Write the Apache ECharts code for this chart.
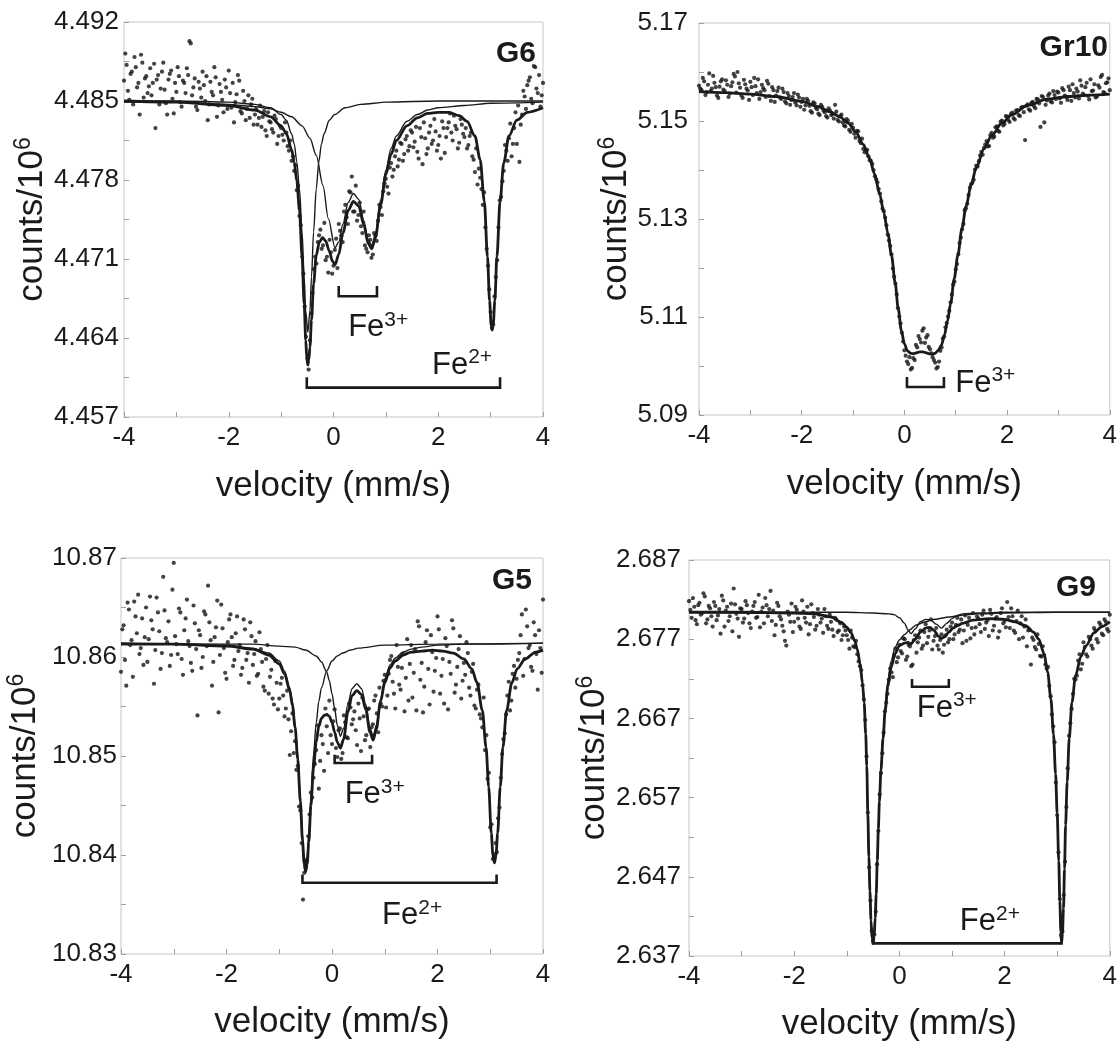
<!DOCTYPE html>
<html><head><meta charset="utf-8">
<script src="https://cdn.jsdelivr.net/npm/echarts@6/dist/echarts.min.js"></script>
<style>html,body{margin:0;padding:0;background:#fff}#c{width:1120px;height:1047px}</style>
</head><body><div id="c"></div>
<script>
// ---------------- data ----------------
// channel velocities (mm/s), two interleaved channel sets
const velocity = [
 -4,-3.95,-3.9,-3.85,-3.8,-3.75,-3.7,-3.65,-3.6,-3.55,
 -3.5,-3.45,-3.4,-3.35,-3.3,-3.25,-3.2,-3.15,-3.1,-3.05,
 -3,-2.95,-2.9,-2.85,-2.8,-2.75,-2.7,-2.65,-2.6,-2.55,
 -2.5,-2.45,-2.4,-2.35,-2.3,-2.25,-2.2,-2.15,-2.1,-2.05,
 -2,-1.95,-1.9,-1.85,-1.8,-1.75,-1.7,-1.65,-1.6,-1.55,
 -1.5,-1.45,-1.4,-1.35,-1.3,-1.25,-1.2,-1.15,-1.1,-1.05,
 -1,-0.95,-0.9,-0.85,-0.8,-0.75,-0.7,-0.65,-0.6,-0.55,
 -0.5,-0.45,-0.4,-0.35,-0.3,-0.25,-0.2,-0.15,-0.1,-0.05,
 0,0.05,0.1,0.15,0.2,0.25,0.3,0.35,0.4,0.45,
 0.5,0.55,0.6,0.65,0.7,0.75,0.8,0.85,0.9,0.95,
 1,1.05,1.1,1.15,1.2,1.25,1.3,1.35,1.4,1.45,
 1.5,1.55,1.6,1.65,1.7,1.75,1.8,1.85,1.9,1.95,
 2,2.05,2.1,2.15,2.2,2.25,2.3,2.35,2.4,2.45,
 2.5,2.55,2.6,2.65,2.7,2.75,2.8,2.85,2.9,2.95,
 3,3.05,3.1,3.15,3.2,3.25,3.3,3.35,3.4,3.45,
 3.5,3.55,3.6,3.65,3.7,3.75,3.8,3.85,3.9,3.95,
 4];
const velocity2 = [
 -3.975,-3.925,-3.875,-3.825,-3.775,-3.725,-3.675,-3.625,-3.575,-3.525,
 -3.475,-3.425,-3.375,-3.325,-3.275,-3.225,-3.175,-3.125,-3.075,-3.025,
 -2.975,-2.925,-2.875,-2.825,-2.775,-2.725,-2.675,-2.625,-2.575,-2.525,
 -2.475,-2.425,-2.375,-2.325,-2.275,-2.225,-2.175,-2.125,-2.075,-2.025,
 -1.975,-1.925,-1.875,-1.825,-1.775,-1.725,-1.675,-1.625,-1.575,-1.525,
 -1.475,-1.425,-1.375,-1.325,-1.275,-1.225,-1.175,-1.125,-1.075,-1.025,
 -0.975,-0.925,-0.875,-0.825,-0.775,-0.725,-0.675,-0.625,-0.575,-0.525,
 -0.475,-0.425,-0.375,-0.325,-0.275,-0.225,-0.175,-0.125,-0.075,-0.025,
 0.025,0.075,0.125,0.175,0.225,0.275,0.325,0.375,0.425,0.475,
 0.525,0.575,0.625,0.675,0.725,0.775,0.825,0.875,0.925,0.975,
 1.025,1.075,1.125,1.175,1.225,1.275,1.325,1.375,1.425,1.475,
 1.525,1.575,1.625,1.675,1.725,1.775,1.825,1.875,1.925,1.975,
 2.025,2.075,2.125,2.175,2.225,2.275,2.325,2.375,2.425,2.475,
 2.525,2.575,2.625,2.675,2.725,2.775,2.825,2.875,2.925,2.975,
 3.025,3.075,3.125,3.175,3.225,3.275,3.325,3.375,3.425,3.475,
 3.525,3.575,3.625,3.675,3.725,3.775,3.825,3.875,3.925,3.975];

const xTickLabels = [-4,-2,0,2,4];
const g6YTicks  = [4.457,4.464,4.471,4.478,4.485,4.492];
const gr10YTicks = [5.09,5.11,5.13,5.15,5.17];
const g5YTicks  = [10.83,10.84,10.85,10.86,10.87];
const g9YTicks  = [2.637,2.647,2.657,2.667,2.677,2.687];

const g6Counts = [
 4.4868,4.4882,4.4851,4.4876,4.4889,4.4862,4.4838,4.4884,4.4870,4.4857,
 4.4879,4.4866,4.4826,4.4873,4.4861,4.4884,4.4848,4.4869,4.4877,4.4839,
 4.4858,4.4872,4.4845,4.4866,4.4879,4.4903,4.4855,4.4870,4.4842,4.4861,
 4.4876,4.4850,4.4833,4.4867,4.4855,4.4871,4.4846,4.4858,4.4840,4.4862,
 4.4877,4.4844,4.4831,4.4856,4.4868,4.4839,4.4850,4.4843,4.4835,4.4852,
 4.4838,4.4829,4.4846,4.4836,4.4824,4.4840,4.4831,4.4822,4.4834,4.4819,
 4.4826,4.4815,4.4822,4.4806,4.4797,4.4788,4.4771,4.4748,4.4712,4.4668,
 4.4622,4.4638,4.4680,4.4712,4.4725,4.4736,4.4722,4.4709,4.4698,4.4716,
 4.4704,4.4728,4.4741,4.4731,4.4752,4.4747,4.4770,4.4783,4.4752,4.4744,
 4.4760,4.4733,4.4722,4.4716,4.4727,4.4714,4.4731,4.4744,4.4756,4.4770,
 4.4781,4.4768,4.4795,4.4789,4.4806,4.4798,4.4812,4.4803,4.4819,4.4810,
 4.4822,4.4814,4.4805,4.4826,4.4794,4.4817,4.4808,4.4828,4.4815,4.4823,
 4.4811,4.4799,4.4826,4.4818,4.4831,4.4822,4.4837,4.4825,4.4813,4.4829,
 4.4818,4.4808,4.4819,4.4801,4.4787,4.4776,4.4782,4.4758,4.4738,4.4704,
 4.4663,4.4652,4.4694,4.4738,4.4765,4.4788,4.4806,4.4817,4.4801,4.4826,
 4.4812,4.4796,4.4838,4.4854,4.4864,4.4871,4.4848,4.4880,4.4857,4.4845,
 4.4866];
const g6Counts2 = [
 4.4892,4.4859,4.4874,4.4847,4.4880,4.4866,4.4891,4.4853,4.4872,4.4863,
 4.4855,4.4883,4.4869,4.4847,4.4876,4.4860,4.4838,4.4874,4.4852,4.4866,
 4.4880,4.4849,4.4868,4.4857,4.4873,4.4901,4.4862,4.4845,4.4867,4.4853,
 4.4864,4.4872,4.4847,4.4858,4.4880,4.4836,4.4865,4.4851,4.4869,4.4843,
 4.4857,4.4866,4.4849,4.4873,4.4841,4.4859,4.4833,4.4855,4.4847,4.4829,
 4.4843,4.4835,4.4827,4.4841,4.4819,4.4832,4.4825,4.4837,4.4812,4.4828,
 4.4820,4.4831,4.4810,4.4815,4.4801,4.4793,4.4775,4.4740,4.4697,4.4641,
 4.4612,4.4662,4.4701,4.4706,4.4731,4.4719,4.4742,4.4712,4.4727,4.4697,
 4.4718,4.4702,4.4735,4.4725,4.4758,4.4741,4.4769,4.4752,4.4775,4.4749,
 4.4739,4.4752,4.4719,4.4731,4.4711,4.4733,4.4726,4.4758,4.4749,4.4777,
 4.4774,4.4791,4.4783,4.4801,4.4792,4.4813,4.4797,4.4816,4.4806,4.4824,
 4.4809,4.4827,4.4799,4.4818,4.4831,4.4803,4.4822,4.4812,4.4834,4.4806,
 4.4819,4.4832,4.4804,4.4826,4.4839,4.4815,4.4828,4.4808,4.4834,4.4821,
 4.4826,4.4811,4.4822,4.4798,4.4808,4.4790,4.4772,4.4769,4.4719,4.4683,
 4.4649,4.4677,4.4709,4.4762,4.4779,4.4811,4.4797,4.4830,4.4812,4.4840,
 4.4846,4.4829,4.4859,4.4843,4.4868,4.4852,4.4881,4.4861,4.4873,4.4855];

const gr10Counts = [
 5.1572,5.1563,5.1581,5.1559,5.1597,5.1566,5.1578,5.1552,5.1570,5.1585,
 5.1561,5.1574,5.1556,5.1579,5.1591,5.1600,5.1568,5.1547,5.1575,5.1562,
 5.1580,5.1553,5.1571,5.1585,5.1559,5.1567,5.1549,5.1576,5.1541,5.1563,
 5.1552,5.1568,5.1545,5.1559,5.1536,5.1551,5.1543,5.1557,5.1532,5.1548,
 5.1539,5.1523,5.1545,5.1531,5.1517,5.1536,5.1524,5.1512,5.1529,5.1518,
 5.1507,5.1521,5.1514,5.1533,5.1502,5.1510,5.1497,5.1489,5.1501,5.1478,
 5.1486,5.1466,5.1479,5.1455,5.1443,5.1440,5.1428,5.1418,5.1400,5.1381,
 5.1361,5.1336,5.1316,5.1287,5.1256,5.1228,5.1182,5.1146,5.1101,5.1068,
 5.1032,5.1009,5.1018,5.0996,5.1012,5.1038,5.1055,5.1072,5.1047,5.1063,
 5.1034,5.1018,5.1007,5.0998,5.1031,5.1056,5.1079,5.1101,5.1130,5.1166,
 5.1197,5.1228,5.1262,5.1290,5.1322,5.1349,5.1371,5.1380,5.1409,5.1418,
 5.1437,5.1445,5.1459,5.1449,5.1476,5.1468,5.1489,5.1478,5.1501,5.1494,
 5.1509,5.1498,5.1517,5.1503,5.1522,5.1510,5.1529,5.1461,5.1534,5.1521,
 5.1539,5.1526,5.1544,5.1488,5.1549,5.1533,5.1552,5.1540,5.1561,5.1545,
 5.1558,5.1537,5.1563,5.1549,5.1570,5.1541,5.1557,5.1566,5.1546,5.1572,
 5.1553,5.1578,5.1544,5.1561,5.1575,5.1550,5.1568,5.1594,5.1557,5.1579,
 5.1563];
const gr10Counts2 = [
 5.1566,5.1588,5.1553,5.1574,5.1561,5.1592,5.1569,5.1547,5.1581,5.1564,
 5.1583,5.1549,5.1571,5.1596,5.1558,5.1577,5.1552,5.1584,5.1566,5.1543,
 5.1569,5.1588,5.1557,5.1545,5.1574,5.1563,5.1582,5.1551,5.1569,5.1539,
 5.1561,5.1548,5.1566,5.1540,5.1557,5.1533,5.1549,5.1538,5.1554,5.1529,
 5.1545,5.1532,5.1541,5.1520,5.1538,5.1527,5.1515,5.1533,5.1521,5.1510,
 5.1526,5.1512,5.1505,5.1519,5.1499,5.1513,5.1491,5.1504,5.1482,5.1494,
 5.1474,5.1480,5.1459,5.1464,5.1436,5.1441,5.1420,5.1412,5.1387,5.1375,
 5.1352,5.1321,5.1303,5.1268,5.1245,5.1199,5.1168,5.1118,5.1087,5.1050,
 5.1021,5.1004,5.0993,5.1016,5.1043,5.1061,5.1048,5.1077,5.1058,5.1039,
 5.1026,5.1012,5.0995,5.1009,5.1038,5.1060,5.1088,5.1113,5.1146,5.1172,
 5.1208,5.1251,5.1279,5.1318,5.1331,5.1364,5.1374,5.1401,5.1407,5.1430,
 5.1431,5.1452,5.1448,5.1471,5.1466,5.1487,5.1480,5.1499,5.1491,5.1510,
 5.1502,5.1514,5.1506,5.1521,5.1512,5.1527,5.1518,5.1531,5.1524,5.1537,
 5.1530,5.1545,5.1536,5.1551,5.1497,5.1542,5.1556,5.1538,5.1553,5.1560,
 5.1546,5.1567,5.1552,5.1543,5.1563,5.1575,5.1548,5.1560,5.1583,5.1556,
 5.1569,5.1551,5.1585,5.1562,5.1548,5.1573,5.1590,5.1559,5.1577,5.1587];

const g5Counts = [
 10.8585,10.8632,10.8571,10.8648,10.8617,10.8656,10.8624,10.8603,10.8639,10.8620,
 10.8595,10.8661,10.8628,10.8607,10.8645,10.8588,10.8681,10.8619,10.8636,10.8602,
 10.8695,10.8613,10.8649,10.8598,10.8627,10.8658,10.8611,10.8586,10.8634,10.8541,
 10.8622,10.8600,10.8643,10.8672,10.8617,10.8595,10.8630,10.8544,10.8653,10.8609,
 10.8578,10.8638,10.8620,10.8597,10.8641,10.8612,10.8589,10.8628,10.8604,10.8635,
 10.8592,10.8616,10.8583,10.8608,10.8570,10.8598,10.8563,10.8587,10.8552,10.8574,
 10.8558,10.8579,10.8540,10.8566,10.8501,10.8543,10.8515,10.8490,10.8445,10.8355,
 10.8388,10.8419,10.8463,10.8478,10.8506,10.8467,10.8521,10.8485,10.8530,10.8556,
 10.8512,10.8547,10.8499,10.8528,10.8503,10.8534,10.8518,10.8549,10.8537,10.8526,
 10.8553,10.8505,10.8540,10.8521,10.8548,10.8529,10.8556,10.8543,10.8569,10.8550,
 10.8582,10.8561,10.8597,10.8575,10.8548,10.8590,10.8567,10.8603,10.8579,10.8556,
 10.8612,10.8584,10.8546,10.8631,10.8594,10.8570,10.8627,10.8552,10.8605,10.8586,
 10.8641,10.8563,10.8598,10.8619,10.8547,10.8583,10.8629,10.8572,10.8608,10.8558,
 10.8594,10.8615,10.8569,10.8585,10.8551,10.8567,10.8542,10.8529,10.8506,10.8477,
 10.8428,10.8396,10.8412,10.8437,10.8478,10.8517,10.8542,10.8575,10.8556,10.8591,
 10.8578,10.8604,10.8643,10.8598,10.8631,10.8612,10.8586,10.8622,10.8567,10.8609,
 10.8658];
const g5Counts2 = [
 10.8628,10.8597,10.8655,10.8612,10.8580,10.8641,10.8663,10.8609,10.8592,10.8650,
 10.8618,10.8637,10.8573,10.8660,10.8626,10.8604,10.8647,10.8615,10.8591,10.8668,
 10.8621,10.8603,10.8645,10.8582,10.8639,10.8616,10.8594,10.8652,10.8608,10.8627,
 10.8589,10.8646,10.8611,10.8635,10.8571,10.8620,10.8657,10.8602,10.8629,10.8584,
 10.8615,10.8643,10.8591,10.8624,10.8606,10.8582,10.8638,10.8597,10.8574,10.8621,
 10.8603,10.8581,10.8625,10.8595,10.8566,10.8612,10.8580,10.8558,10.8596,10.8547,
 10.8573,10.8561,10.8548,10.8537,10.8525,10.8503,10.8486,10.8449,10.8412,10.8382,
 10.8395,10.8441,10.8458,10.8492,10.8531,10.8495,10.8512,10.8548,10.8503,10.8521,
 10.8535,10.8508,10.8526,10.8497,10.8541,10.8519,10.8553,10.8532,10.8545,10.8511,
 10.8538,10.8559,10.8516,10.8547,10.8509,10.8532,10.8561,10.8524,10.8553,10.8576,
 10.8549,10.8583,10.8601,10.8563,10.8612,10.8572,10.8589,10.8545,10.8618,10.8593,
 10.8559,10.8608,10.8636,10.8577,10.8544,10.8615,10.8588,10.8622,10.8565,10.8599,
 10.8628,10.8581,10.8553,10.8611,10.8595,10.8637,10.8564,10.8590,10.8621,10.8576,
 10.8582,10.8604,10.8561,10.8593,10.8548,10.8572,10.8538,10.8559,10.8521,10.8483,
 10.8431,10.8401,10.8403,10.8448,10.8502,10.8523,10.8561,10.8546,10.8583,10.8569,
 10.8597,10.8622,10.8581,10.8648,10.8609,10.8590,10.8635,10.8603,10.8627,10.8584];

const g9Counts = [
 2.6818,2.6797,2.6811,2.6789,2.6816,2.6803,2.6824,2.6795,2.6809,2.6786,
 2.6812,2.6800,2.6777,2.6819,2.6806,2.6793,2.6815,2.6834,2.6802,2.6773,
 2.6808,2.6796,2.6813,2.6790,2.6805,2.6817,2.6798,2.6785,2.6810,2.6822,
 2.6799,2.6831,2.6806,2.6788,2.6812,2.6795,2.6780,2.6762,2.6801,2.6815,
 2.6792,2.6807,2.6786,2.6819,2.6797,2.6811,2.6789,2.6803,2.6782,2.6808,
 2.6791,2.6778,2.6799,2.6783,2.6792,2.6774,2.6795,2.6781,2.6769,2.6786,
 2.6775,2.6758,2.6772,2.6760,2.6751,2.6736,2.6712,2.6668,2.6551,2.6440,
 2.6389,2.6426,2.6528,2.6601,2.6652,2.6690,2.6719,2.6728,2.6749,2.6741,
 2.6763,2.6752,2.6770,2.6748,2.6761,2.6738,2.6775,2.6766,2.6781,2.6762,
 2.6789,2.6773,2.6795,2.6768,2.6784,2.6757,2.6776,2.6763,2.6782,2.6770,
 2.6791,2.6776,2.6797,2.6782,2.6765,2.6800,2.6788,2.6771,2.6803,2.6785,
 2.6796,2.6779,2.6806,2.6791,2.6774,2.6802,2.6787,2.6798,2.6780,2.6809,
 2.6793,2.6817,2.6784,2.6799,2.6778,2.6806,2.6790,2.6772,2.6795,2.6781,
 2.6738,2.6769,2.6757,2.6764,2.6748,2.6750,2.6733,2.6711,2.6675,2.6640,
 2.6548,2.6442,2.6401,2.6489,2.6607,2.6664,2.6701,2.6719,2.6743,2.6732,
 2.6766,2.6751,2.6773,2.6762,2.6784,2.6770,2.6791,2.6777,2.6795,2.6783,
 2.6801];
const g9Counts2 = [
 2.6807,2.6822,2.6794,2.6813,2.6801,2.6828,2.6790,2.6812,2.6799,2.6817,
 2.6794,2.6808,2.6825,2.6786,2.6811,2.6799,2.6780,2.6814,2.6796,2.6809,
 2.6791,2.6818,2.6803,2.6784,2.6812,2.6797,2.6826,2.6805,2.6790,2.6813,
 2.6808,2.6793,2.6775,2.6816,2.6799,2.6787,2.6768,2.6805,2.6792,2.6779,
 2.6811,2.6796,2.6783,2.6805,2.6791,2.6776,2.6814,2.6798,2.6787,2.6801,
 2.6796,2.6808,2.6787,2.6801,2.6782,2.6797,2.6779,2.6790,2.6775,2.6781,
 2.6769,2.6781,2.6761,2.6768,2.6742,2.6731,2.6694,2.6622,2.6482,2.6402,
 2.6397,2.6486,2.6574,2.6626,2.6679,2.6701,2.6733,2.6722,2.6758,2.6747,
 2.6755,2.6771,2.6744,2.6763,2.6736,2.6769,2.6753,2.6772,2.6758,2.6779,
 2.6765,2.6781,2.6757,2.6774,2.6762,2.6769,2.6753,2.6775,2.6766,2.6786,
 2.6770,2.6788,2.6779,2.6795,2.6781,2.6768,2.6797,2.6784,2.6776,2.6799,
 2.6789,2.6801,2.6783,2.6794,2.6807,2.6781,2.6796,2.6772,2.6803,2.6790,
 2.6785,2.6798,2.6809,2.6781,2.6793,2.6770,2.6799,2.6786,2.6761,2.6782,
 2.6772,2.6760,2.6776,2.6749,2.6761,2.6738,2.6735,2.6698,2.6660,2.6589,
 2.6501,2.6396,2.6447,2.6558,2.6648,2.6682,2.6720,2.6724,2.6751,2.6739,
 2.6760,2.6748,2.6770,2.6758,2.6781,2.6766,2.6788,2.6775,2.6792,2.6780];

// fitted curves [velocity, counts]
const g6Total = [[-4,4.4850],[-3,4.4849],[-2,4.4846],[-1.5,4.4842],[-1.2,4.4836],[-1,4.4828],[-0.9,4.4821],[-0.8,4.4807],[-0.75,4.4796],[-0.7,4.4779],[-0.65,4.4753],[-0.6,4.4712],[-0.56,4.4670],[-0.53,4.4638],[-0.51,4.4622],[-0.49,4.4616],[-0.47,4.4621],[-0.45,4.4632],[-0.42,4.4656],[-0.38,4.4688],[-0.33,4.4713],[-0.27,4.4725],[-0.21,4.4729],[-0.15,4.4726],[-0.08,4.4717],[-0.02,4.4708],[0.03,4.4705],[0.1,4.4714],[0.18,4.4733],[0.28,4.4753],[0.38,4.4761],[0.48,4.4757],[0.58,4.4740],[0.66,4.4724],[0.73,4.4719],[0.8,4.4729],[0.9,4.4758],[1,4.4785],[1.1,4.4803],[1.2,4.4815],[1.4,4.4828],[1.6,4.4835],[1.8,4.4839],[2,4.4840],[2.2,4.4840],[2.4,4.4837],[2.55,4.4832],[2.7,4.4819],[2.8,4.4798],[2.88,4.4761],[2.94,4.4712],[2.98,4.4673],[3.01,4.4651],[3.03,4.4647],[3.05,4.4652],[3.08,4.4673],[3.12,4.4712],[3.18,4.4761],[3.25,4.4795],[3.35,4.4819],[3.5,4.4833],[3.7,4.4840],[4,4.4844]];
const g6Fe3Fit = [[-4,4.4849],[-3,4.4849],[-2,4.4847],[-1.5,4.4845],[-1.2,4.4843],[-1,4.4840],[-0.8,4.4836],[-0.6,4.4828],[-0.45,4.4817],[-0.33,4.4802],[-0.2,4.4775],[-0.1,4.4746],[0.03,4.4720],[0.1,4.4725],[0.18,4.4741],[0.28,4.4760],[0.38,4.4768],[0.48,4.4763],[0.58,4.4744],[0.66,4.4727],[0.73,4.4722],[0.8,4.4732],[0.9,4.4762],[1,4.4789],[1.1,4.4808],[1.2,4.4819],[1.4,4.4832],[1.6,4.4838],[1.8,4.4842],[2,4.4844],[2.5,4.4846],[3,4.4848],[4,4.4849]];
const g6LineFit = [[-4,4.4850],[-3,4.4850],[-2,4.4849],[-1.5,4.4847],[-1.2,4.4844],[-1,4.4838],[-0.9,4.4833],[-0.8,4.4821],[-0.75,4.4812],[-0.7,4.4796],[-0.65,4.4772],[-0.6,4.4734],[-0.56,4.4694],[-0.53,4.4664],[-0.49,4.4645],[-0.45,4.4664],[-0.42,4.4694],[-0.38,4.4734],[-0.33,4.4772],[-0.28,4.4796],[-0.23,4.4812],[-0.18,4.4821],[-0.08,4.4833],[0.02,4.4838],[0.22,4.4844],[0.52,4.4847],[1.02,4.4849],[2,4.4850],[4,4.4850]];

const gr10Total = [[-4,5.1560],[-3.5,5.1558],[-3,5.1555],[-2.5,5.1550],[-2,5.1540],[-1.7,5.1530],[-1.45,5.1519],[-1.25,5.1508],[-1.1,5.1496],[-0.95,5.1478],[-0.8,5.1452],[-0.68,5.1424],[-0.58,5.1392],[-0.48,5.1350],[-0.4,5.1313],[-0.32,5.1270],[-0.25,5.1225],[-0.18,5.1170],[-0.12,5.1117],[-0.06,5.1073],[0,5.1045],[0.06,5.1031],[0.12,5.1026],[0.18,5.1025],[0.24,5.1027],[0.3,5.1029],[0.36,5.1029],[0.42,5.1027],[0.48,5.1025],[0.54,5.1024],[0.6,5.1026],[0.66,5.1032],[0.72,5.1042],[0.78,5.1063],[0.84,5.1092],[0.9,5.1127],[0.97,5.1178],[1.04,5.1225],[1.12,5.1280],[1.2,5.1325],[1.3,5.1370],[1.4,5.1405],[1.55,5.1443],[1.7,5.1470],[1.9,5.1496],[2.1,5.1513],[2.4,5.1532],[2.8,5.1545],[3.2,5.1550],[3.6,5.1553],[4,5.1555]];

const g5Total = [[-4,10.8613],[-3,10.8613],[-2,10.8611],[-1.5,10.8608],[-1.2,10.8602],[-1,10.8593],[-0.9,10.8583],[-0.8,10.8566],[-0.75,10.8551],[-0.7,10.8529],[-0.65,10.8497],[-0.6,10.8454],[-0.56,10.8415],[-0.53,10.8392],[-0.5,10.8383],[-0.47,10.8391],[-0.44,10.8413],[-0.4,10.8450],[-0.35,10.8488],[-0.3,10.8514],[-0.25,10.8530],[-0.2,10.8538],[-0.15,10.8541],[-0.1,10.8542],[-0.05,10.8540],[0,10.8534],[0.05,10.8524],[0.1,10.8514],[0.16,10.8508],[0.22,10.8517],[0.3,10.8544],[0.38,10.8561],[0.47,10.8566],[0.56,10.8562],[0.64,10.8547],[0.72,10.8524],[0.78,10.8516],[0.84,10.8527],[0.92,10.8555],[1,10.8574],[1.1,10.8589],[1.2,10.8596],[1.35,10.8602],[1.5,10.8605],[1.7,10.8606],[1.9,10.8607],[2.1,10.8606],[2.3,10.8604],[2.5,10.8598],[2.65,10.8588],[2.75,10.8574],[2.85,10.8546],[2.92,10.8509],[2.97,10.8469],[3.02,10.8422],[3.05,10.8400],[3.08,10.8392],[3.11,10.8400],[3.14,10.8422],[3.19,10.8469],[3.24,10.8509],[3.31,10.8546],[3.41,10.8574],[3.51,10.8588],[3.66,10.8598],[3.86,10.8605],[4,10.8607]];
const g5Fe3Fit = [[-4,10.8614],[-2,10.8613],[-1.5,10.8613],[-1,10.8611],[-0.7,10.8610],[-0.5,10.8607],[-0.3,10.8601],[-0.2,10.8595],[-0.1,10.8585],[-0.05,10.8576],[0,10.8563],[0.05,10.8548],[0.1,10.8531],[0.16,10.8520],[0.22,10.8528],[0.3,10.8552],[0.38,10.8568],[0.47,10.8573],[0.56,10.8568],[0.64,10.8552],[0.72,10.8528],[0.78,10.8520],[0.84,10.8531],[0.92,10.8557],[1,10.8578],[1.1,10.8592],[1.2,10.8599],[1.35,10.8605],[1.5,10.8608],[1.7,10.8610],[2,10.8612],[2.5,10.8613],[3,10.8613],[4,10.8614]];
const g5LineFit = [[-4,10.8614],[-2,10.8612],[-1.5,10.8609],[-1.2,10.8604],[-1,10.8596],[-0.9,10.8586],[-0.8,10.8569],[-0.75,10.8555],[-0.7,10.8533],[-0.65,10.8502],[-0.6,10.8459],[-0.56,10.8421],[-0.53,10.8399],[-0.5,10.8390],[-0.47,10.8399],[-0.44,10.8421],[-0.4,10.8459],[-0.35,10.8502],[-0.3,10.8533],[-0.25,10.8555],[-0.2,10.8569],[-0.1,10.8586],[0,10.8596],[0.1,10.8601],[0.2,10.8604],[0.35,10.8607],[0.5,10.8609],[1,10.8612],[2,10.8613],[4,10.8614]];

const g9Total = [[-4,2.6804],[-3,2.6804],[-2,2.6803],[-1.6,2.6802],[-1.3,2.6798],[-1.1,2.6791],[-1,2.6785],[-0.92,2.6778],[-0.85,2.6768],[-0.8,2.6757],[-0.75,2.6740],[-0.7,2.6714],[-0.67,2.6690],[-0.64,2.6650],[-0.62,2.6610],[-0.6,2.6550],[-0.58,2.6495],[-0.56,2.6452],[-0.54,2.6415],[-0.52,2.6392],[-0.5,2.6386],[-0.48,2.6395],[-0.46,2.6418],[-0.44,2.6448],[-0.42,2.6490],[-0.4,2.6530],[-0.38,2.6565],[-0.35,2.6605],[-0.31,2.6645],[-0.27,2.6680],[-0.22,2.6710],[-0.16,2.6734],[-0.08,2.6752],[0,2.6762],[0.1,2.6765],[0.16,2.6766],[0.22,2.6764],[0.3,2.6770],[0.4,2.6779],[0.5,2.6784],[0.58,2.6785],[0.66,2.6781],[0.74,2.6774],[0.8,2.6771],[0.86,2.6773],[0.94,2.6779],[1.02,2.6784],[1.1,2.6787],[1.2,2.6790],[1.4,2.6794],[1.7,2.6796],[2,2.6795],[2.2,2.6792],[2.4,2.6787],[2.55,2.6779],[2.65,2.6770],[2.75,2.6752],[2.82,2.6728],[2.88,2.6695],[2.93,2.6650],[2.97,2.6600],[3,2.6550],[3.03,2.6490],[3.05,2.6440],[3.07,2.6400],[3.083,2.6386],[3.1,2.6398],[3.12,2.6430],[3.14,2.6480],[3.16,2.6535],[3.19,2.6590],[3.23,2.6645],[3.28,2.6690],[3.35,2.6724],[3.45,2.6748],[3.55,2.6762],[3.7,2.6778],[3.85,2.6786],[4,2.6792]];
const g9Fe3Fit = [[-4,2.6804],[-1,2.6804],[-0.5,2.6803],[-0.2,2.6802],[-0.1,2.6801],[0,2.6797],[0.1,2.6790],[0.16,2.6782],[0.22,2.6777],[0.3,2.6783],[0.4,2.6792],[0.5,2.6795],[0.6,2.6794],[0.7,2.6789],[0.8,2.6784],[0.9,2.6790],[1,2.6796],[1.1,2.6800],[1.2,2.6802],[1.5,2.6803],[2,2.6804],[4,2.6804]];
const g9LineFit = [[-4,2.6804],[-2,2.6803],[-1.6,2.6802],[-1.3,2.6798],[-1.1,2.6792],[-1,2.6786],[-0.92,2.6779],[-0.85,2.6769],[-0.8,2.6758],[-0.75,2.6741],[-0.7,2.6715],[-0.67,2.6691],[-0.64,2.6651],[-0.62,2.6611],[-0.6,2.6551],[-0.58,2.6496],[-0.56,2.6453],[-0.54,2.6416],[-0.52,2.6393],[-0.5,2.6388],[-0.48,2.6397],[-0.46,2.6420],[-0.44,2.6450],[-0.42,2.6492],[-0.4,2.6533],[-0.38,2.6568],[-0.35,2.6609],[-0.31,2.6650],[-0.27,2.6686],[-0.22,2.6717],[-0.16,2.6742],[-0.08,2.6760],[0,2.6769],[0.1,2.6776],[0.2,2.6782],[0.32,2.6788],[0.5,2.6792],[0.64,2.6795],[0.96,2.6798],[1.15,2.6800],[1.5,2.6802],[2,2.6803],[3,2.6804],[4,2.6804]];

// ---------------- layout / style ----------------
const FONT = '"Liberation Sans", Arial, Helvetica, sans-serif';
const INK = '#1a1a1a';

const panels = [
  { title:'G6', grid:{left:124, top:22, width:419, height:395}, yTicks:g6YTicks, dec:3,
    counts:[g6Counts, g6Counts2], total:g6Total, thin:[g6Fe3Fit, g6LineFit],
    yLabelMargin:5, yNameGap:70, xNameGap:52, titlePos:{right:584, top:39},
    brackets:[{x1:0.10, x2:0.83, bar:4.4677, tip:4.4685}, {x1:-0.51, x2:3.18, bar:4.4596, tip:4.4604}],
    texts:[{sup:'3+', x:0.28, y:4.4649}, {sup:'2+', x:1.88, y:4.4616}] },
  { title:'Gr10', grid:{left:699, top:23, width:413, height:392}, yTicks:gr10YTicks, dec:2,
    counts:[gr10Counts, gr10Counts2], total:gr10Total, thin:[],
    yLabelMargin:11, yNameGap:63, xNameGap:52, titlePos:{right:12, top:33},
    brackets:[{x1:0.05, x2:0.77, bar:5.0957, tip:5.0975}],
    texts:[{sup:'3+', x:0.99, y:5.0965}] },
  { title:'G5', grid:{left:121, top:558, width:422, height:396}, yTicks:g5YTicks, dec:2,
    counts:[g5Counts, g5Counts2], total:g5Total, thin:[g5Fe3Fit, g5LineFit],
    yLabelMargin:4, yNameGap:76, xNameGap:51, titlePos:{right:588, top:566},
    brackets:[{x1:0.05, x2:0.76, bar:10.8493, tip:10.8500}, {x1:-0.56, x2:3.12, bar:10.8372, tip:10.8379}],
    texts:[{sup:'3+', x:0.24, y:10.8461}, {sup:'2+', x:0.95, y:10.8339}] },
  { title:'G9', grid:{left:689, top:560, width:421, height:396}, yTicks:g9YTicks, dec:3,
    counts:[g9Counts, g9Counts2], total:g9Total, thin:[g9Fe3Fit, g9LineFit],
    yLabelMargin:8, yNameGap:73, xNameGap:51, titlePos:{right:24, top:573},
    brackets:[{x1:0.24, x2:0.94, bar:2.6710, tip:2.6718}, {x1:-0.50, x2:3.08, bar:2.6386, tip:2.6386}],
    texts:[{sup:'3+', x:0.33, y:2.6683}, {sup:'2+', x:1.15, y:2.6413}] }
];

function pairs(xs, ys){ return xs.map((x,i)=>[x, ys[i]]); }
function withMids(t){ const o=[]; for(let i=0;i<t.length;i++){ o.push(t[i]); if(i<t.length-1) o.push((t[i]+t[i+1])/2); } return o; }

const grids=[], xAxes=[], yAxes=[], series=[], titles=[];
const supRich = {
  m:{fontSize:31, fontFamily:FONT, color:INK, lineHeight:36},
  s:{fontSize:21, fontFamily:FONT, color:INK, lineHeight:20, verticalAlign:'top'}
};
const nameRich = {
  m:{fontSize:35, fontFamily:FONT, color:INK, lineHeight:40},
  s:{fontSize:23, fontFamily:FONT, color:INK, lineHeight:22, verticalAlign:'top'}
};

panels.forEach((p,i)=>{
  grids.push(Object.assign({show:true, borderColor:'#c6c6c6', borderWidth:1, backgroundColor:'transparent', containLabel:false}, p.grid));
  xAxes.push({
    type:'value', gridIndex:i, min:-4, max:4,
    axisLine:{show:false, onZero:false}, splitLine:{show:false},
    axisTick:{show:true, inside:true, length:5, customValues:withMids(xTickLabels), lineStyle:{color:'#a0a0a0', width:1}},
    axisLabel:{customValues:xTickLabels, fontSize:26, fontFamily:FONT, color:INK, margin:8, formatter:v=>String(v)},
    name:'velocity (mm/s)', nameLocation:'middle', nameGap:p.xNameGap,
    nameTextStyle:{fontSize:35, fontFamily:FONT, color:INK}
  });
  const yt=p.yTicks;
  yAxes.push({
    type:'value', gridIndex:i, min:yt[0], max:yt[yt.length-1],
    axisLine:{show:false, onZero:false}, splitLine:{show:false},
    axisTick:{show:true, inside:true, length:5, customValues:withMids(yt), lineStyle:{color:'#a0a0a0', width:1}},
    axisLabel:{customValues:yt, fontSize:26, fontFamily:FONT, color:INK, margin:p.yLabelMargin, formatter:v=>v.toFixed(p.dec)},
    name:'{m|counts/10}{s|6}', nameLocation:'middle', nameGap:p.yNameGap,
    nameTextStyle:{fontSize:35, fontFamily:FONT, color:INK, rich:nameRich}
  });
  titles.push({text:p.title, right:p.titlePos.right, top:p.titlePos.top, padding:0,
    textStyle:{fontSize:30, fontWeight:'bold', fontFamily:FONT, color:INK}});

  const vels=[velocity, velocity2];
  p.counts.forEach((c,k)=>series.push({type:'scatter', xAxisIndex:i, yAxisIndex:i, data:pairs(vels[k], c),
    symbol:'circle', symbolSize:4.2, itemStyle:{color:'#141414'}, silent:true, z:2}));
  p.thin.forEach(t=>series.push({type:'line', xAxisIndex:i, yAxisIndex:i, data:t, showSymbol:false,
    smooth:0.3, smoothMonotone:'x', lineStyle:{width:1.4, color:INK}, silent:true, z:3}));
  series.push({type:'line', xAxisIndex:i, yAxisIndex:i, data:p.total, showSymbol:false,
    smooth:0.3, smoothMonotone:'x', lineStyle:{width:2.8, color:INK}, silent:true, z:4});
  p.brackets.forEach(b=>series.push({type:'line', xAxisIndex:i, yAxisIndex:i,
    data:[[b.x1,b.tip],[b.x1,b.bar],[b.x2,b.bar],[b.x2,b.tip]], showSymbol:false, smooth:false,
    lineStyle:{width:2.6, color:INK, cap:'square', join:'miter'}, silent:true, z:5}));
  series.push({type:'scatter', xAxisIndex:i, yAxisIndex:i, symbolSize:0, silent:true, z:6,
    data:p.texts.map(t=>({value:[t.x,t.y], sup:t.sup})),
    itemStyle:{color:INK, opacity:1},
    label:{show:true, position:'right', distance:0, align:'left', verticalAlign:'middle',
      color:INK, opacity:1, textBorderWidth:0,
      formatter:pr=>'{m|Fe}{s|'+pr.data.sup+'}', rich:supRich}});
});

const chart = echarts.init(document.getElementById('c'), null, {renderer:'canvas'});
chart.setOption({
  animation:false, backgroundColor:'#ffffff',
  textStyle:{fontFamily:FONT},
  title:titles, grid:grids, xAxis:xAxes, yAxis:yAxes, series:series
});
</script>
</body></html>
